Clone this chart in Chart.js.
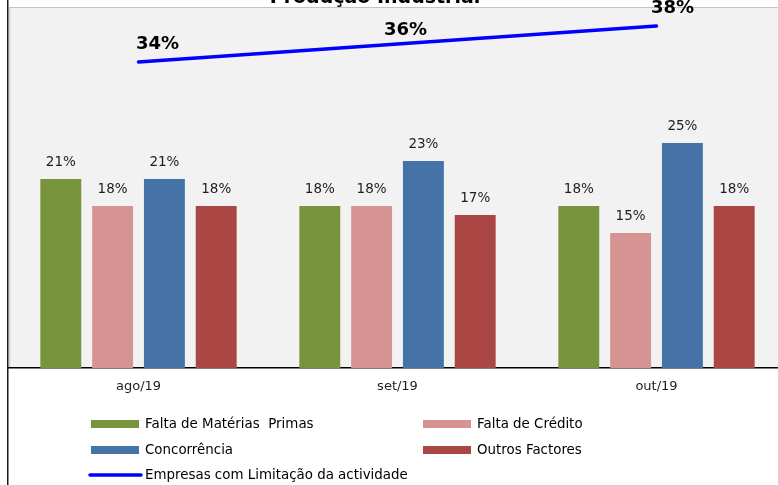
<!DOCTYPE html>
<html>
<head>
<meta charset="utf-8">
<script src="https://cdn.jsdelivr.net/npm/chart.js@4"></script>
<style>
  html, body { margin: 0; padding: 0; background: #fff; overflow: hidden; }
  #wrap { position: relative; width: 790px; height: 485px; }
</style>
</head>
<body>
<div id="wrap"><canvas id="chart" width="790" height="485"></canvas></div>
<script>
const months = ["ago/19", "set/19", "out/19"];

const materiasPrimas = [21, 18, 18];
const faltaCredito = [18, 18, 15];
const concorrencia = [21, 23, 25];
const outrosFactores = [18, 17, 18];
const limitacao = [34, 36, 38];

const FONT = "'DejaVu Sans', Verdana, sans-serif";

// background, frame lines and the (partly hidden) title
const framePlugin = {
  id: "frame",
  beforeDraw(chart) {
    const { ctx, chartArea: a } = chart;
    ctx.save();
    ctx.fillStyle = "#f2f2f2";
    ctx.fillRect(a.left, a.top, a.right - a.left, a.bottom - a.top);
    ctx.fillStyle = "#c4c4c4";
    ctx.fillRect(a.left, a.top - 1, a.right - a.left, 1);
    ctx.fillStyle = "#d6d6d6";
    ctx.fillRect(a.left, a.top, 1.5, a.bottom - a.top);
    ctx.fillStyle = "#1a1a1a";
    ctx.fillRect(7, 0, 1.5, chart.height);

    ctx.fillStyle = "#000";
    ctx.font = "bold 19px " + FONT;
    ctx.textAlign = "center";
    ctx.textBaseline = "alphabetic";
    ctx.fillText("Produção Industrial", 375, 3);
    ctx.restore();
  }
};

// value labels over bars and line points
const LINE_LABEL_SHIFT = [[19, -18], [8, -14], [16, -18]];
const labelsPlugin = {
  id: "valueLabels",
  afterDatasetsDraw(chart) {
    const ctx = chart.ctx;
    ctx.save();
    ctx.textAlign = "center";
    ctx.textBaseline = "middle";
    chart.data.datasets.forEach((ds, di) => {
      const meta = chart.getDatasetMeta(di);
      meta.data.forEach((el, i) => {
        const txt = ds.data[i] + "%";
        if (ds.type === "line") {
          ctx.font = "bold 18px " + FONT;
          ctx.fillStyle = "#000";
          ctx.fillText(txt, el.x + LINE_LABEL_SHIFT[i][0], el.y + LINE_LABEL_SHIFT[i][1]);
        } else {
          ctx.font = "13.5px " + FONT;
          ctx.fillStyle = "#1e1e1e";
          ctx.fillText(txt, el.x, el.y - 17);
        }
      });
    });
    ctx.restore();
  }
};

// two-column legend under the axis
const legendPlugin = {
  id: "bottomLegend",
  afterDraw(chart) {
    const ctx = chart.ctx;
    const ds = chart.data.datasets;
    const cols = [91, 423];
    const rows = [424, 450, 475];
    ctx.save();
    ctx.font = "13.4px " + FONT;
    ctx.fillStyle = "#000";
    ctx.textBaseline = "middle";
    ds.forEach((d, i) => {
      const x = cols[i % 2];
      const y = rows[Math.floor(i / 2)];
      if (d.type === "line") {
        ctx.strokeStyle = d.borderColor;
        ctx.lineWidth = 3.5;
        ctx.lineCap = "round";
        ctx.beginPath();
        ctx.moveTo(x - 1, y);
        ctx.lineTo(x + 50, y);
        ctx.stroke();
      } else {
        ctx.fillStyle = d.backgroundColor;
        ctx.fillRect(x, y - 4, 48, 8);
      }
      ctx.fillStyle = "#000";
      ctx.fillText(d.label, x + 54, y + 1);
    });
    ctx.restore();
  }
};

const bar = (label, data, color) => ({
  type: "bar",
  label,
  data,
  backgroundColor: color,
  borderWidth: 0,
  barPercentage: 0.79,
  categoryPercentage: 0.8,
  order: 2
});

new Chart(document.getElementById("chart"), {
  data: {
    labels: months,
    datasets: [
      bar("Falta de Matérias  Primas", materiasPrimas, "#77933c"),
      bar("Falta de Crédito", faltaCredito, "#d59492"),
      bar("Concorrência", concorrencia, "#4572a7"),
      bar("Outros Factores", outrosFactores, "#aa4744"),
      {
        type: "line",
        label: "Empresas com Limitação da actividade",
        data: limitacao,
        borderColor: "#0000ff",
        borderWidth: 3.5,
        borderCapStyle: "round",
        pointRadius: 0,
        fill: false,
        clip: false,
        order: 1
      }
    ]
  },
  options: {
    responsive: false,
    animation: false,
    layout: { padding: { left: 9, top: 8, right: 4, bottom: 0 } },
    plugins: {
      legend: { display: false },
      tooltip: { enabled: false },
      title: { display: false }
    },
    scales: {
      x: {
        grid: { display: false, drawTicks: false },
        border: { display: true, color: "#000", width: 1.5 },
        ticks: { color: "#1e1e1e", font: { family: FONT, size: 13 }, padding: 11 },
        afterFit(scale) { scale.height = 117; }
      },
      y: {
        display: false,
        min: 0,
        max: 40
      }
    }
  },
  plugins: [framePlugin, labelsPlugin, legendPlugin]
});
</script>
</body>
</html>
